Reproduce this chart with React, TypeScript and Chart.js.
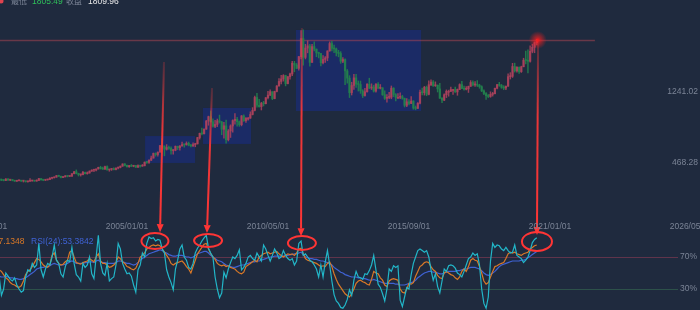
import React, { useEffect, useRef } from 'react';
import { Chart, registerables } from 'chart.js';

Chart.register(...registerables);

// Monthly candles, first one is 2000/03 (months counted from 2000/01 = 0)
const FIRST_MONTH = 2;

const opens = [
  293, 277, 274, 272, 288, 276, 277, 273, 264, 269,
  273, 265, 267, 258, 263, 267, 270, 265, 273, 293, 279, 275,
  279, 282, 297, 302, 309, 326, 318, 305, 312, 324, 317, 319,
  347, 368, 348, 334, 336, 361, 346, 354, 375, 385, 386, 398,
  416, 400, 396, 424, 388, 394, 395, 391, 408, 416, 429, 453,
  438, 423, 435, 428, 436, 417, 435, 429, 433, 473, 470, 495,
  517, 569, 556, 582, 654, 643, 614, 633, 624, 599, 604, 647,
  632, 650, 665, 662, 679, 659, 650, 665, 673, 742, 789, 783,
  834, 923, 971, 916, 865, 886, 926, 912, 833, 871, 718, 814,
  869, 928, 942, 916, 883, 979, 926, 955, 955, 995, 1040, 1181,
  1096, 1081, 1116, 1113, 1179, 1207, 1244, 1169, 1247, 1307, 1357, 1384,
  1421, 1333, 1409, 1439, 1556, 1536, 1500, 1628, 1826, 1620, 1722, 1746,
  1565, 1738, 1711, 1669, 1663, 1561, 1598, 1614, 1691, 1772, 1719, 1713,
  1675, 1663, 1578, 1596, 1472, 1393, 1234, 1312, 1396, 1327, 1323, 1253,
  1202, 1244, 1326, 1284, 1296, 1250, 1327, 1282, 1287, 1211, 1172, 1182,
  1184, 1283, 1212, 1183, 1183, 1190, 1172, 1095, 1134, 1115, 1142, 1065,
  1061, 1118, 1238, 1234, 1293, 1215, 1321, 1350, 1309, 1316, 1275, 1173,
  1152, 1211, 1249, 1249, 1268, 1268, 1242, 1269, 1322, 1280, 1271, 1275,
  1303, 1345, 1318, 1325, 1315, 1299, 1253, 1224, 1201, 1192, 1215, 1222,
  1282, 1321, 1313, 1292, 1284, 1305, 1409, 1413, 1520, 1472, 1511, 1464,
  1517, 1589, 1585, 1577, 1687, 1730, 1781,
];

const highs = [
  298, 289, 280, 294, 293, 280, 279, 275, 271, 276,
  274, 270, 269, 266, 292, 275, 272, 279, 295, 294, 283, 281,
  285, 303, 304, 310, 327, 330, 321, 316, 325, 324, 322, 349,
  372, 388, 352, 341, 372, 365, 366, 377, 390, 392, 400, 418,
  428, 419, 429, 432, 395, 399, 410, 410, 419, 431, 455, 457,
  440, 438, 447, 438, 438, 443, 438, 447, 475, 479, 497, 540,
  573, 575, 586, 656, 730, 653, 665, 650, 640, 610, 650, 648,
  653, 692, 672, 695, 693, 669, 684, 680, 745, 791, 847, 839,
  930, 977, 1033, 948, 932, 945, 988, 920, 910, 933, 830, 882,
  935, 1006, 964, 924, 984, 990, 960, 965, 1024, 1070, 1195, 1227,
  1162, 1128, 1139, 1180, 1249, 1265, 1245, 1250, 1310, 1388, 1424, 1431,
  1425, 1411, 1448, 1576, 1577, 1553, 1632, 1913, 1921, 1763, 1802, 1764,
  1764, 1790, 1712, 1677, 1665, 1640, 1630, 1692, 1790, 1796, 1755, 1723,
  1697, 1683, 1617, 1605, 1488, 1420, 1348, 1434, 1434, 1362, 1361, 1267,
  1280, 1332, 1392, 1331, 1315, 1332, 1345, 1323, 1288, 1255, 1213, 1238,
  1307, 1288, 1224, 1224, 1232, 1205, 1175, 1170, 1157, 1191, 1146, 1088,
  1125, 1263, 1283, 1303, 1306, 1362, 1375, 1367, 1352, 1318, 1337, 1180,
  1220, 1264, 1261, 1296, 1270, 1296, 1274, 1331, 1358, 1307, 1299, 1306,
  1366, 1362, 1356, 1366, 1326, 1309, 1266, 1236, 1214, 1243, 1237, 1284,
  1326, 1347, 1324, 1310, 1306, 1439, 1453, 1555, 1557, 1518, 1516, 1524,
  1611, 1689, 1704, 1747, 1765, 1789, 1818,
];

const lows = [
  274, 270, 268, 270, 273, 270, 268, 263, 262, 267,
  262, 255, 255, 255, 262, 265, 263, 264, 270, 276, 271, 271,
  276, 281, 288, 299, 307, 315, 301, 302, 311, 311, 315, 317,
  345, 344, 321, 320, 334, 343, 341, 352, 370, 368, 376, 397,
  398, 392, 393, 385, 373, 382, 387, 388, 399, 410, 427, 432,
  419, 414, 424, 422, 414, 415, 418, 428, 432, 460, 460, 490,
  517, 538, 539, 582, 640, 542, 605, 612, 560, 560, 597, 610,
  604, 648, 636, 660, 651, 639, 646, 641, 671, 725, 772, 781,
  833, 877, 910, 856, 850, 862, 900, 773, 736, 681, 705, 743,
  802, 888, 867, 865, 870, 918, 908, 932, 952, 990, 1033, 1075,
  1075, 1044, 1088, 1110, 1166, 1200, 1157, 1166, 1243, 1306, 1330, 1360,
  1308, 1330, 1381, 1419, 1462, 1496, 1479, 1603, 1535, 1603, 1670, 1523,
  1564, 1690, 1627, 1614, 1527, 1549, 1565, 1583, 1687, 1692, 1672, 1636,
  1626, 1555, 1562, 1321, 1338, 1180, 1208, 1270, 1292, 1251, 1226, 1180,
  1195, 1238, 1277, 1268, 1240, 1240, 1280, 1274, 1204, 1161, 1131, 1167,
  1167, 1190, 1142, 1170, 1169, 1162, 1077, 1080, 1099, 1112, 1052, 1046,
  1061, 1111, 1208, 1207, 1200, 1208, 1310, 1301, 1302, 1241, 1171, 1124,
  1146, 1180, 1195, 1245, 1214, 1236, 1205, 1267, 1278, 1261, 1264, 1236,
  1302, 1307, 1303, 1301, 1282, 1245, 1211, 1160, 1180, 1183, 1196, 1221,
  1276, 1303, 1281, 1266, 1267, 1301, 1383, 1400, 1459, 1459, 1445, 1455,
  1517, 1548, 1451, 1567, 1670, 1671, 1757,
];

const closes = [
  277, 274, 272, 288, 276, 277, 273, 264, 269, 273,
  265, 267, 258, 263, 267, 270, 265, 273, 293, 279, 275, 279,
  282, 297, 302, 309, 326, 318, 305, 312, 324, 317, 319, 347,
  368, 348, 334, 336, 361, 346, 354, 375, 385, 386, 398, 416,
  400, 396, 424, 388, 394, 395, 391, 408, 416, 429, 453, 438,
  423, 435, 428, 436, 417, 435, 429, 433, 473, 470, 495, 517,
  569, 556, 582, 654, 643, 614, 633, 624, 599, 604, 647, 632,
  650, 665, 662, 679, 659, 650, 665, 673, 742, 789, 783, 834,
  923, 971, 916, 865, 886, 926, 912, 833, 871, 718, 814, 869,
  928, 942, 916, 883, 979, 926, 955, 955, 995, 1040, 1181, 1096,
  1081, 1116, 1113, 1179, 1207, 1244, 1169, 1247, 1307, 1357, 1384, 1421,
  1333, 1409, 1439, 1556, 1536, 1500, 1628, 1826, 1620, 1722, 1746, 1565,
  1738, 1711, 1669, 1663, 1561, 1598, 1614, 1691, 1772, 1719, 1713, 1675,
  1663, 1578, 1596, 1472, 1393, 1234, 1312, 1396, 1327, 1323, 1253, 1202,
  1244, 1326, 1284, 1296, 1250, 1327, 1282, 1287, 1211, 1172, 1182, 1184,
  1283, 1212, 1183, 1183, 1190, 1172, 1095, 1134, 1115, 1142, 1065, 1061,
  1118, 1238, 1234, 1293, 1215, 1321, 1350, 1309, 1316, 1275, 1173, 1152,
  1211, 1249, 1249, 1268, 1268, 1242, 1269, 1322, 1280, 1271, 1275, 1303,
  1345, 1318, 1325, 1315, 1299, 1253, 1224, 1201, 1192, 1215, 1222, 1282,
  1321, 1313, 1292, 1284, 1305, 1409, 1413, 1520, 1472, 1511, 1464, 1517,
  1589, 1585, 1577, 1687, 1730, 1781, 1809.96,
];

const rsi6 = [
  45, 22, 30, 50, 46, 42, 40, 44, 35, 30,
  26, 28, 45, 54, 52, 62, 57, 60, 87, 54,
  45, 55, 62, 60, 70, 85, 66, 62, 49, 45,
  58, 66, 64, 82, 62, 48, 45, 40, 62, 57,
  60, 70, 49, 43, 70, 97, 62, 50, 47, 62,
  40, 43, 45, 60, 87, 80, 62, 55, 49, 50,
  46, 35, 26, 54, 60, 75, 70, 87, 95, 93,
  94, 90, 92, 91, 80, 75, 54, 45, 38, 29,
  55, 66, 80, 85, 70, 66, 57, 55, 62, 75,
  81, 85, 90, 94, 97, 81, 75, 70, 45, 30,
  19, 25, 51, 44, 55, 63, 70, 68, 72, 79,
  54, 57, 62, 70, 72, 68, 66, 75, 70, 65,
  85, 80, 72, 65, 72, 80, 75, 68, 70, 78,
  72, 68, 66, 68, 60, 65, 87, 90, 72, 74,
  70, 66, 64, 60, 55, 45, 60, 45, 64, 78,
  60, 40, 23, 15, 12, 7, 6, 10, 17, 29,
  22, 41, 52, 45, 44, 42, 49, 48, 53, 60,
  72, 54, 36, 32, 24, 15, 30, 55, 52, 59,
  57, 59, 16, 8, 20, 32, 30, 48, 62, 70,
  78, 80, 78, 76, 78, 70, 54, 41, 49, 33,
  25, 40, 55, 52, 59, 60, 59, 56, 50, 48,
  45, 52, 60, 68, 70, 75, 72, 74, 60, 30,
  12, 6, 20, 65, 87, 82, 85, 84, 80, 78,
  82, 78, 75, 76, 85, 72, 70, 68, 63, 66,
  70, 78, 88, 92, 94,
];

const rsi12 = [
  54, 52, 48, 44, 42, 38, 36, 35, 33, 32,
  34, 40, 48, 52, 54, 58, 63, 68, 67, 64,
  60, 58, 57, 60, 72, 75, 66, 62, 60, 61,
  64, 66, 76, 78, 70, 63, 62, 61, 63, 64,
  65, 68, 66, 64, 70, 74, 65, 62, 62, 60,
  57, 58, 60, 63, 70, 68, 64, 62, 58, 57,
  55, 54, 56, 62, 70, 72, 75, 80, 82, 84,
  85, 84, 85, 84, 80, 76, 72, 68, 62, 60,
  62, 63, 64, 65, 62, 58, 55, 50, 58, 66,
  74, 78, 82, 86, 87, 80, 74, 70, 67, 62,
  60, 59, 60, 58, 59, 57, 56, 55, 52, 50,
  49, 51, 58, 60, 62, 64, 66, 64, 70, 72,
  74, 75, 76, 74, 75, 76, 77, 74, 72, 70,
  72, 74, 73, 74, 72, 75, 80, 81, 74, 68,
  66, 65, 64, 63, 62, 60, 58, 59, 58, 62,
  64, 58, 49, 42, 36, 32, 28, 24, 22, 20,
  24, 30, 37, 40, 41, 39, 38, 36, 35, 42,
  52, 50, 49, 44, 41, 35, 33, 40, 42, 43,
  42, 41, 30, 26, 25, 30, 37, 36, 38, 46,
  52, 58, 60, 63, 64, 63, 58, 54, 52, 47,
  44, 43, 50, 52, 50, 48, 47, 44, 42, 45,
  52, 55, 52, 58, 66, 68, 66, 65, 58, 50,
  40, 36, 38, 45, 52, 58, 59, 61, 62, 63,
  68, 74, 76, 75, 76, 74, 73, 72, 74, 75,
  76, 80, 82, 84, 85,
];

const rsi24 = [
  46, 45, 45, 46, 45, 44, 44, 43, 43, 42,
  42, 43, 44, 46, 48, 50, 52, 55, 56, 57,
  57, 58, 58, 59, 61, 62, 61, 60, 60, 60,
  61, 62, 64, 65, 64, 62, 62, 62, 62, 63,
  63, 64, 64, 63, 65, 66, 64, 63, 63, 62,
  62, 62, 62, 63, 65, 65, 64, 63, 62, 62,
  61, 60, 61, 63, 66, 68, 70, 72, 74, 75,
  76, 77, 78, 79, 78, 76, 75, 73, 72, 71,
  71, 72, 72, 72, 71, 70, 70, 69, 70, 72,
  74, 75, 76, 77, 77, 75, 72, 70, 68, 66,
  65, 64, 62, 60, 59, 58, 57, 57, 58, 59,
  60, 60, 61, 62, 63, 64, 64, 65, 65, 66,
  67, 68, 69, 70, 70, 71, 71, 71, 71, 71,
  72, 72, 73, 73, 74, 74, 75, 76, 73, 70,
  69, 68, 68, 67, 67, 66, 65, 65, 64, 63,
  62, 60, 57, 55, 53, 51, 50, 48, 47, 46,
  45, 45, 45, 44, 44, 43, 43, 42, 41, 41,
  42, 41, 40, 39, 38, 37, 37, 37, 37, 37,
  36, 36, 35, 35, 35, 36, 37, 38, 39, 41,
  44, 46, 48, 50, 51, 52, 52, 51, 51, 50,
  49, 49, 50, 51, 52, 52, 52, 52, 53, 53,
  54, 55, 55, 56, 57, 57, 57, 56, 55, 53,
  50, 48, 47, 48, 50, 52, 55, 58, 60, 61,
  62, 63, 64, 65, 65, 65, 65, 66, 66, 67,
  69, 71, 73, 75, 77,
];

// Axis ticks (months since 2000/01)
const xTickMonths = [-4, 60, 124, 188, 252, 316];
const xTickLabels = ['1999/09/01', '2005/01/01', '2010/05/01', '2015/09/01', '2021/01/01', '2026/05/01'];
const priceTicks = [1241.02, 468.28];
const rsiTicks = [70, 30];
const rsiTickLabels = ['70%', '30%'];

// Header / legend values
const headerLabels = ['最低', '收盘'];
const headerValues = ['1805.49', '1809.96'];
const lastPrice = 1809.96;
const legendLabels = ['RSI(12):57.1348', 'RSI(24):53.3842'];

// Highlighted zones (months, price)
const zoneStart = [68.2, 94.5, 136.7];
const zoneEnd = [90.9, 116.3, 193.5];
const zoneLow = [464, 672, 1033];
const zoneHigh = [759, 1066, 1920];

// Arrows: from price chart point to RSI point
const arrowFromMonth = [76.8, 98.6, 139.4, 246.6];
const arrowFromPrice = [1570, 1285, 1942, 1810];
const arrowToMonth = [75.0, 96.3, 139.0, 246.1];
const arrowToRsi = [101, 100, 96, 97.5];

// Circles on RSI
const circleMonth = [72.7, 96.8, 139.4, 246.1];
const circleRsi = [90, 90.6, 87.5, 89.4];
const circleRx = [13.5, 14, 14, 15];
const circleRy = [8, 6.5, 7, 9.5];

const BG = '#1f2a3e';
const UP = 'rgba(172,66,92,0.85)';
const DOWN = 'rgba(34,128,76,0.9)';
const CYAN = '#22b6c8';
const ORANGE = '#d97827';
const BLUE = '#3f62d4';
const GRAY = '#7b8496';
const RED = '#ff3535';

const overlay = {
  id: 'overlay',
  beforeDraw(chart: any) {
    const { ctx, width, height } = chart;
    ctx.save();
    ctx.fillStyle = BG;
    ctx.fillRect(0, 0, width, height);
    ctx.restore();
  },
  beforeDatasetsDraw(chart: any) {
    const { ctx } = chart;
    const x = chart.scales.x;
    const y = chart.scales.y;
    const y2 = chart.scales.y2;
    ctx.save();
    ctx.fillStyle = 'rgba(24,44,135,0.55)';
    for (let i = 0; i < zoneStart.length; i++) {
      const x0 = x.getPixelForValue(zoneStart[i]);
      const x1 = x.getPixelForValue(zoneEnd[i]);
      const yt = y.getPixelForValue(zoneHigh[i]);
      const yb = y.getPixelForValue(zoneLow[i]);
      ctx.fillRect(x0, yt, x1 - x0, yb - yt);
    }
    // last price line
    const ly = Math.round(y.getPixelForValue(lastPrice)) + 0.5;
    ctx.strokeStyle = 'rgba(180,70,82,0.5)';
    ctx.lineWidth = 1.3;
    ctx.beginPath();
    ctx.moveTo(0, ly);
    ctx.lineTo(x.getPixelForValue(272.4), ly);
    ctx.stroke();
    // RSI reference lines
    const refColors = ['rgba(150,60,85,0.55)', 'rgba(60,120,85,0.5)'];
    for (let i = 0; i < rsiTicks.length; i++) {
      const ry = Math.round(y2.getPixelForValue(rsiTicks[i])) + 0.5;
      ctx.strokeStyle = refColors[i];
      ctx.lineWidth = 1;
      ctx.beginPath();
      ctx.moveTo(0, ry);
      ctx.lineTo(678, ry);
      ctx.stroke();
    }
    ctx.restore();
  },
  afterDatasetsDraw(chart: any) {
    const { ctx } = chart;
    const x = chart.scales.x;
    const y = chart.scales.y;
    const y2 = chart.scales.y2;
    ctx.save();
    // Arrows
    for (let i = 0; i < arrowFromMonth.length; i++) {
      const sx = x.getPixelForValue(arrowFromMonth[i]);
      const sy = y.getPixelForValue(arrowFromPrice[i]);
      const ex = x.getPixelForValue(arrowToMonth[i]);
      const ey = y2.getPixelForValue(arrowToRsi[i]);
      const ang = Math.atan2(ey - sy, ex - sx);
      const hl = 8;
      const bx = ex - Math.cos(ang) * hl;
      const by = ey - Math.sin(ang) * hl;
      const g = ctx.createLinearGradient(sx, sy, ex, ey);
      g.addColorStop(0, 'rgba(255,60,60,0.2)');
      g.addColorStop(0.4, 'rgba(255,55,55,0.9)');
      g.addColorStop(1, RED);
      ctx.strokeStyle = g;
      ctx.lineWidth = 2;
      ctx.beginPath();
      ctx.moveTo(sx, sy);
      ctx.lineTo(bx, by);
      ctx.stroke();
      ctx.fillStyle = RED;
      ctx.beginPath();
      ctx.moveTo(ex, ey);
      ctx.lineTo(bx + Math.cos(ang + Math.PI / 2) * 3.5, by + Math.sin(ang + Math.PI / 2) * 3.5);
      ctx.lineTo(bx + Math.cos(ang - Math.PI / 2) * 3.5, by + Math.sin(ang - Math.PI / 2) * 3.5);
      ctx.closePath();
      ctx.fill();
    }
    // Circles
    ctx.strokeStyle = RED;
    ctx.lineWidth = 2;
    for (let i = 0; i < circleMonth.length; i++) {
      const cx = x.getPixelForValue(circleMonth[i]);
      const cy = y2.getPixelForValue(circleRsi[i]);
      ctx.beginPath();
      ctx.ellipse(cx, cy, circleRx[i], circleRy[i], 0, 0, Math.PI * 2);
      ctx.stroke();
    }
    // Glow on last price
    const gx = x.getPixelForValue(FIRST_MONTH + closes.length - 1) + 1;
    const gy = y.getPixelForValue(lastPrice);
    const rg = ctx.createRadialGradient(gx, gy, 0, gx, gy, 9);
    rg.addColorStop(0, 'rgba(255,25,25,1)');
    rg.addColorStop(0.3, 'rgba(255,30,30,0.6)');
    rg.addColorStop(1, 'rgba(255,30,30,0)');
    ctx.fillStyle = rg;
    ctx.beginPath();
    ctx.arc(gx, gy, 9, 0, Math.PI * 2);
    ctx.fill();

    // Texts
    ctx.font = '8.5px "Liberation Sans", Arial, sans-serif';
    ctx.fillStyle = GRAY;
    ctx.textBaseline = 'middle';
    ctx.textAlign = 'center';
    for (let i = 0; i < xTickMonths.length; i++) {
      ctx.fillText(xTickLabels[i], x.getPixelForValue(xTickMonths[i]), 227);
    }
    ctx.textAlign = 'right';
    for (let i = 0; i < priceTicks.length; i++) {
      ctx.fillText(priceTicks[i].toFixed(2), 698, y.getPixelForValue(priceTicks[i]));
    }
    for (let i = 0; i < rsiTicks.length; i++) {
      ctx.fillText(rsiTickLabels[i], 697, y2.getPixelForValue(rsiTicks[i]));
    }
    // Legend
    ctx.fillStyle = ORANGE;
    ctx.textAlign = 'right';
    ctx.fillText(legendLabels[0], 24.5, 242);
    ctx.fillStyle = BLUE;
    ctx.textAlign = 'left';
    ctx.fillText(legendLabels[1], 31, 242);

    // Header (cut at top)
    ctx.fillStyle = '#e0434f';
    ctx.beginPath();
    ctx.arc(1, 1, 2.5, 0, Math.PI * 2);
    ctx.fill();
    ctx.textBaseline = 'alphabetic';
    ctx.textAlign = 'left';
    ctx.font = '8px "Noto Sans CJK SC", sans-serif';
    ctx.fillStyle = GRAY;
    ctx.fillText(headerLabels[0], 11, 3.5);
    ctx.fillText(headerLabels[1], 66, 3.5);
    ctx.font = '8.5px "Liberation Sans", Arial, sans-serif';
    ctx.fillStyle = '#2fbf5a';
    ctx.fillText(headerValues[0], 32, 4);
    ctx.fillStyle = '#e8e8e8';
    ctx.fillText(headerValues[1], 88, 4);
    ctx.restore();
  },
};

export default function App() {
  const ref = useRef<HTMLCanvasElement | null>(null);

  useEffect(() => {
    document.body.style.margin = '0';
    document.body.style.background = BG;
    const canvas = ref.current;
    if (!canvas) return;
    const months = opens.map((_, i) => FIRST_MONTH + i);
    const colors = months.map((_, i) => (closes[i] >= opens[i] ? UP : DOWN));
    const chart = new Chart(canvas, {
      type: 'bar',
      data: {
        datasets: [
          {
            type: 'line',
            label: 'RSI(6)',
            data: months.map((m, i) => ({ x: m, y: rsi6[i] })),
            yAxisID: 'y2',
            borderColor: CYAN,
            borderWidth: 1.2,
            pointRadius: 0,
            tension: 0,
            order: 0,
          } as any,
          {
            type: 'line',
            label: 'RSI(12)',
            data: months.map((m, i) => ({ x: m, y: rsi12[i] })),
            yAxisID: 'y2',
            borderColor: ORANGE,
            borderWidth: 1.2,
            pointRadius: 0,
            tension: 0,
            order: 1,
          } as any,
          {
            type: 'line',
            label: 'RSI(24)',
            data: months.map((m, i) => ({ x: m, y: rsi24[i] })),
            yAxisID: 'y2',
            borderColor: BLUE,
            borderWidth: 1.2,
            pointRadius: 0,
            tension: 0,
            order: 2,
          } as any,
          {
            type: 'bar',
            label: 'body',
            data: months.map((m, i) => ({ x: m, y: [opens[i], closes[i]] })),
            yAxisID: 'y',
            backgroundColor: colors,
            barThickness: 1.6,
            minBarLength: 1,
            grouped: false,
            order: 3,
          } as any,
          {
            type: 'bar',
            label: 'wick',
            data: months.map((m, i) => ({ x: m, y: [lows[i], highs[i]] })),
            yAxisID: 'y',
            backgroundColor: colors,
            barThickness: 0.8,
            grouped: false,
            order: 4,
          } as any,
        ],
      },
      options: {
        responsive: false,
        animation: false,
        devicePixelRatio: 1,
        events: [],
        layout: { padding: 0 },
        plugins: { legend: { display: false }, tooltip: { enabled: false } },
        scales: {
          x: { type: 'linear', min: 2.36, max: 320.1, display: false, offset: false },
          y: { type: 'linear', min: -1146.1, max: 2248.4, display: false },
          y2: { type: 'linear', min: 3.75, max: 391.25, display: false },
        },
      } as any,
      plugins: [overlay],
    });
    return () => chart.destroy();
  }, []);

  return (
    <div style={{ width: 700, height: 310, background: BG, overflow: 'hidden' }}>
      <canvas ref={ref} width={700} height={310} style={{ display: 'block', width: 700, height: 310 }} />
    </div>
  );
}
